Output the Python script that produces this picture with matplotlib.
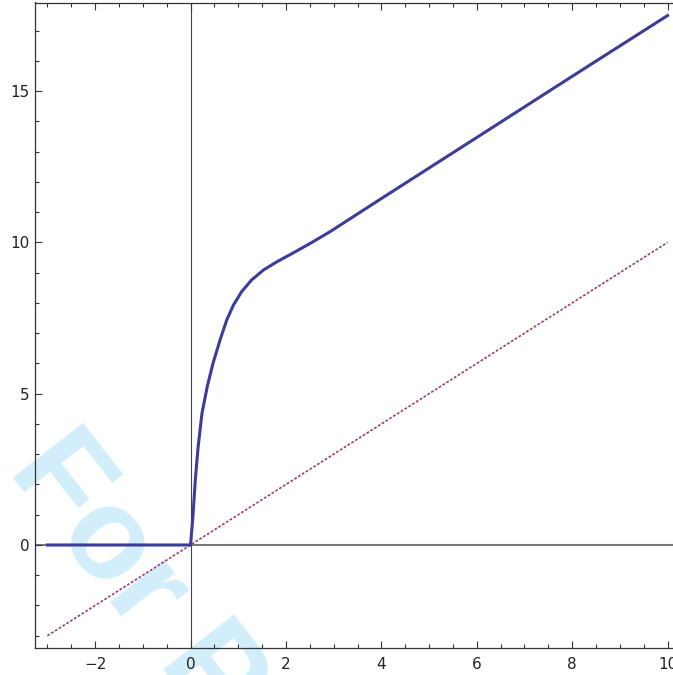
import matplotlib
matplotlib.use("Agg")
import matplotlib.pyplot as plt
from matplotlib.ticker import MultipleLocator

# values
curve_x = [-3.0, 0.0, 0.05, 0.10, 0.16, 0.24, 0.35, 0.47, 0.63, 0.76, 0.90,
           1.07, 1.28, 1.53, 1.81, 2.16, 2.51, 2.92, 4.0, 6.2, 8.0, 10.0]
curve_y = [0.0, 0.0, 0.94, 2.15, 3.25, 4.35, 5.23, 6.0, 6.83, 7.44, 7.93,
           8.37, 8.76, 9.09, 9.36, 9.66, 9.97, 10.35, 11.45, 13.67, 15.49, 17.5]
diag_x = [-3.0, 10.0]
diag_y = [-3.0, 10.0]
xticks_major = [-2, 0, 2, 4, 6, 8, 10]
yticks_major = [0, 5, 10, 15]

blue = "#3c3c9a"
purple = "#993d71"

fig = plt.figure(figsize=(6.73, 6.75), dpi=100)
ax = fig.add_axes([35 / 673, 27.3 / 675, 645 / 673, 645.2 / 675])

ax.set_xlim(-3.26, 10.26)
ax.set_ylim(-3.395, 17.93)

# watermark behind everything
ax.text(7.1 / 673, 1 - 470.4 / 675, "For P", transform=fig.transFigure,
        rotation=-52, rotation_mode="anchor", ha="left", va="baseline",
        fontsize=93, fontweight="bold", family="Liberation Sans",
        color="#d3eefb", zorder=0.5, clip_on=False)

ax.axhline(0, color="#7a7a7a", lw=1.5, zorder=1)
ax.axvline(0, color="#444444", lw=0.8, zorder=1)

ax.plot(diag_x, diag_y, color=purple, lw=1.2, linestyle=(0, (1.6, 1.1)), zorder=2)
ax.plot(curve_x, curve_y, color=blue, lw=2.2, solid_joinstyle="round", zorder=3)

ax.set_xticks(xticks_major)
ax.set_yticks(yticks_major)
ax.xaxis.set_minor_locator(MultipleLocator(0.5))
ax.yaxis.set_minor_locator(MultipleLocator(1))
ax.set_xticklabels(["\u22122" if t == -2 else str(t) for t in xticks_major])

ax.tick_params(which="both", direction="in", top=True, right=True,
               color="#333333", width=0.8, labelsize=11, labelcolor="#222222")
ax.tick_params(which="major", length=5)
ax.tick_params(which="minor", length=2.8)
ax.tick_params(axis="x", pad=7)
ax.tick_params(axis="y", pad=4)

for s in ax.spines.values():
    s.set_color("#333333")
    s.set_linewidth(0.9)

fig.savefig("out.png", dpi=100)
